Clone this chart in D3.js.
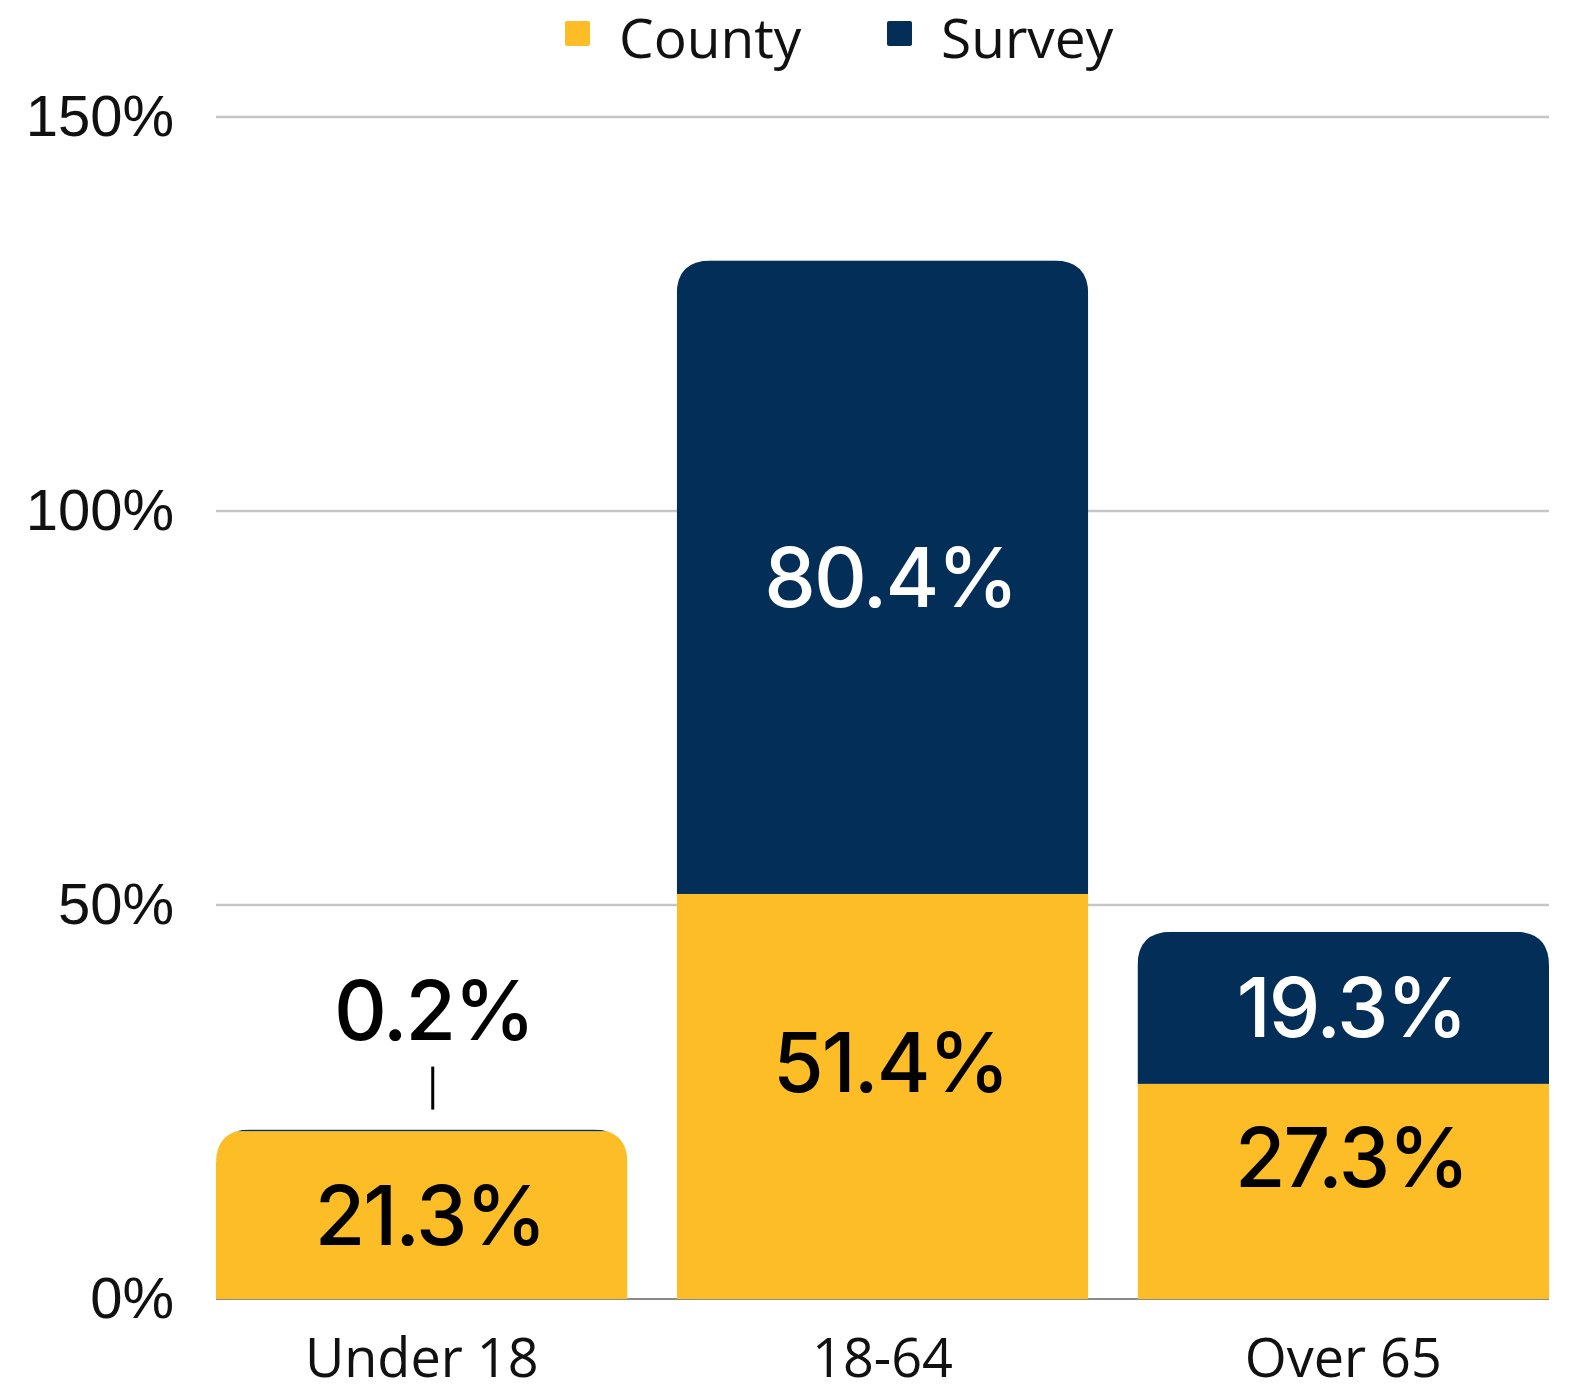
<!DOCTYPE html>
<html>
<head>
<meta charset="utf-8">
<title>County vs Survey by age</title>
<style>
  body { margin: 0; background: #fff; }
  svg { display: block; }
</style>
</head>
<body>
<div id="container"></div>
<script src="https://cdn.jsdelivr.net/npm/d3@7"></script>
<script>
  // values
  var categories = ["Under 18", "18-64", "Over 65"];
  var countyValues = [21.3, 51.4, 27.3];
  var surveyValues = [0.2, 80.4, 19.3];
  var seriesNames = ["County", "Survey"];
  var yTicks = [0, 50, 100, 150];

  var colors = { County: "#fdbd27", Survey: "#032e57" };
  var labelColors = { County: "#000", Survey: "#fff" };

  var W = 1574, H = 1393;
  var plotLeft = 216, plotRight = 1549, plotTop = 117, plotBottom = 1299;

  var x = d3.scaleBand().domain(categories).range([plotLeft, plotRight])
    .paddingInner(0.107).paddingOuter(0);
  var y = d3.scaleLinear().domain([0, 150]).range([plotBottom, plotTop]);

  var rows = categories.map(function(c, i) {
    return { cat: c, County: countyValues[i], Survey: surveyValues[i] };
  });
  var stacked = d3.stack().keys(seriesNames)(rows);

  var svg = d3.select("#container").append("svg")
    .attr("width", W).attr("height", H);

  // grid
  svg.append("g").selectAll("line")
    .data(yTicks.filter(function(d) { return d > 0; }))
    .enter().append("line")
      .attr("x1", plotLeft).attr("x2", plotRight)
      .attr("y1", function(d) { return y(d); })
      .attr("y2", function(d) { return y(d); })
      .attr("stroke", "#c6c6c6").attr("stroke-width", 2.5);

  svg.append("line")
    .attr("x1", plotLeft).attr("x2", plotRight)
    .attr("y1", y(0)).attr("y2", y(0))
    .attr("stroke", "#8a8a8a").attr("stroke-width", 2);

  // y axis labels
  var yAxis = svg.append("g")
    .attr("transform", "translate(" + plotLeft + ",0)")
    .call(d3.axisLeft(y).tickValues(yTicks).tickSize(0).tickPadding(42)
      .tickFormat(function(d) { return d + "%"; }));
  yAxis.select(".domain").remove();
  yAxis.selectAll("text")
    .attr("font-family", "'Liberation Sans', Arial, sans-serif")
    .attr("font-size", 58).attr("fill", "#111");

  // rounded-top clip per bar
  var r = 34;
  function topRounded(x0, y0, w, y1) {
    return "M" + x0 + "," + y1 +
      "V" + (y0 + r) +
      "Q" + x0 + "," + y0 + " " + (x0 + r) + "," + y0 +
      "H" + (x0 + w - r) +
      "Q" + (x0 + w) + "," + y0 + " " + (x0 + w) + "," + (y0 + r) +
      "V" + y1 + "Z";
  }
  var defs = svg.append("defs");
  rows.forEach(function(d, i) {
    defs.append("clipPath").attr("id", "clip" + i)
      .append("path")
      .attr("d", topRounded(x(d.cat), y(d.County + d.Survey), x.bandwidth(), y(0)));
  });

  var bars = svg.append("g");
  stacked.forEach(function(s) {
    bars.append("g").selectAll("rect")
      .data(s)
      .enter().append("rect")
        .attr("clip-path", function(d, i) { return "url(#clip" + i + ")"; })
        .attr("x", function(d) { return x(d.data.cat); })
        .attr("width", x.bandwidth())
        .attr("y", function(d) { return y(d[1]); })
        .attr("height", function(d) { return y(d[0]) - y(d[1]); })
        .attr("fill", colors[s.key]);
  });

  // value labels
  var valFont = "Inter, 'Noto Sans', sans-serif";
  stacked.forEach(function(s) {
    s.forEach(function(d) {
      var v = d.data[s.key];
      var cx = x(d.data.cat) + x.bandwidth() / 2 + 8;
      var small = (y(d[0]) - y(d[1])) < 60;
      if (small) {
        var barTop = y(d[1]);
        svg.append("line")
          .attr("x1", cx + 3).attr("x2", cx + 3)
          .attr("y1", barTop - 63).attr("y2", barTop - 20)
          .attr("stroke", "#000").attr("stroke-width", 3);
        svg.append("text")
          .attr("x", cx + 4).attr("y", barTop - 90)
          .attr("text-anchor", "middle")
          .attr("font-family", valFont).attr("font-weight", 500)
          .attr("font-size", 82).attr("letter-spacing", -2).attr("fill", "#000")
          .text(v + "%");
      } else {
        // lower segment label sits a bit high when another segment is stacked on it
        var lift = (s.key === "County" && d.data.Survey > 5) ? -34 : 0;
        svg.append("text")
          .attr("x", cx).attr("y", (y(d[0]) + y(d[1])) / 2 + lift)
          .attr("dy", "0.36em")
          .attr("text-anchor", "middle")
          .attr("font-family", valFont).attr("font-weight", 500)
          .attr("font-size", 82).attr("letter-spacing", -2)
          .attr("fill", labelColors[s.key])
          .text(v + "%");
      }
    });
  });

  // x axis labels
  var xAxis = svg.append("g")
    .attr("transform", "translate(0," + plotBottom + ")")
    .call(d3.axisBottom(x).tickSize(0).tickPadding(40));
  xAxis.select(".domain").remove();
  xAxis.selectAll("text")
    .attr("font-family", "'Open Sans', sans-serif")
    .attr("font-size", 54).attr("fill", "#111");

  // legend
  var legend = svg.append("g");
  var legX = [565, 887];
  seriesNames.forEach(function(name, i) {
    legend.append("rect")
      .attr("x", legX[i]).attr("y", 21)
      .attr("width", 25).attr("height", 25).attr("rx", 2)
      .attr("fill", colors[name]);
    legend.append("text")
      .attr("x", legX[i] + 54).attr("y", 58)
      .attr("font-family", "'Open Sans', sans-serif")
      .attr("font-size", 55).attr("fill", "#111")
      .text(name);
  });
</script>
</body>
</html>
